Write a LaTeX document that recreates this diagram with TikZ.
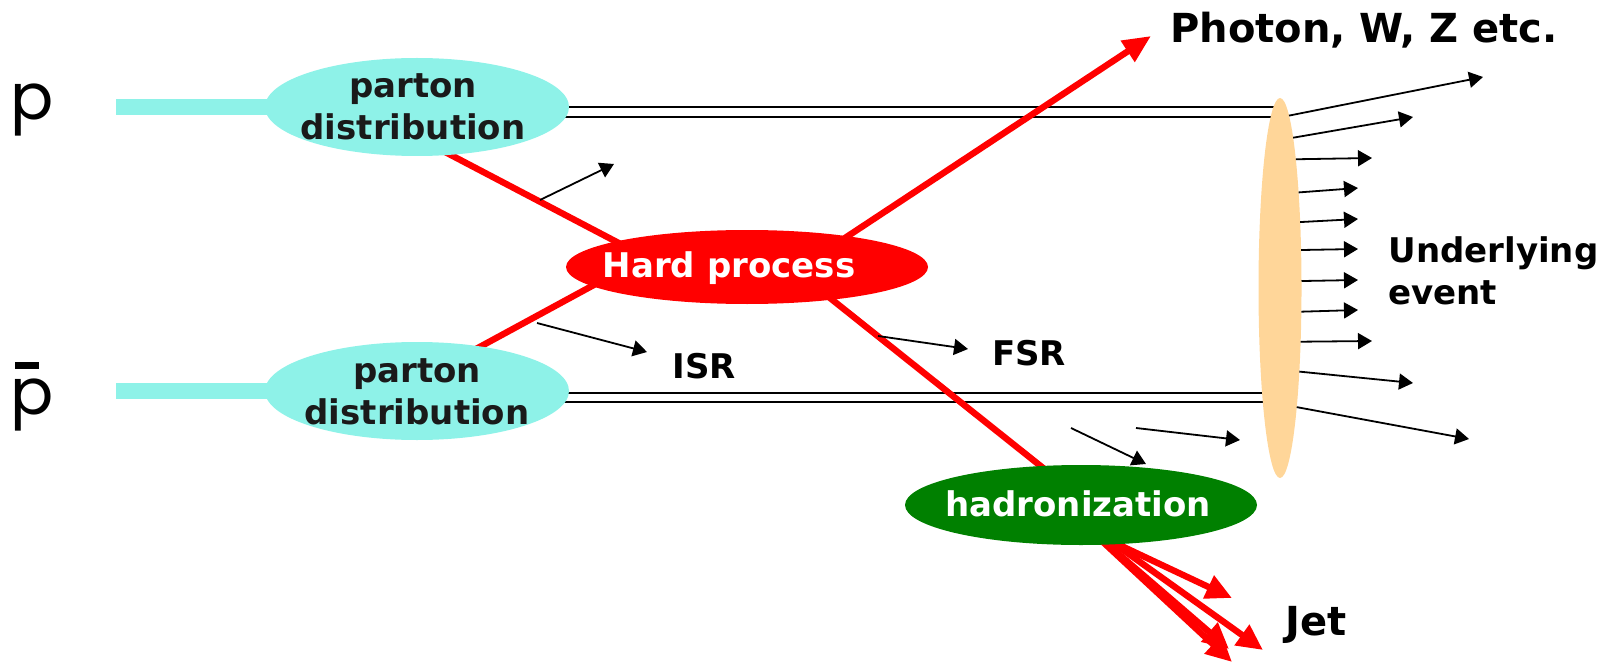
\documentclass[tikz,border=0pt]{standalone}
\usepackage{fontspec}
\setmainfont{DejaVu Sans}
\newfontfamily\beamfont{Poppins}
\usetikzlibrary{arrows.meta,shapes.geometric}
\pgfdeclarelayer{back}
\pgfsetlayers{back,main}
\definecolor{pdfcyan}{RGB}{142,242,232}
\definecolor{hardred}{RGB}{255,0,0}
\definecolor{hadgreen}{RGB}{0,128,0}
\definecolor{uepeach}{RGB}{255,214,153}
\definecolor{pdftext}{RGB}{26,26,26}
\tikzset{
  blob/.style={ellipse, inner sep=0pt, outer sep=0pt, draw=none},
  pdfblob/.style={blob, fill=pdfcyan, minimum width=152pt, minimum height=49pt},
  lbl/.style={font=\fontsize{17}{21}\selectfont\bfseries, align=center, inner sep=0pt},
  biglbl/.style={font=\fontsize{20}{24}\selectfont\bfseries, inner sep=0pt},
  beamtxt/.style={font=\beamfont\fontsize{32}{32}\selectfont, inner sep=0pt, anchor=base west},
  beam/.style={line width=8pt, draw=pdfcyan},
  rail/.style={line width=0.9pt, draw=black},
  redline/.style={line width=3.2pt, draw=hardred},
  redarrow/.style={redline, -{Triangle[length=14pt,width=12pt]}},
  jetarrow/.style={redline, -{Triangle[length=13pt,width=12pt]}},
  emit/.style={line width=0.9pt, -{Triangle[length=7pt,width=8pt]}},
}
\begin{document}
\begin{tikzpicture}[x=0.5pt,y=-0.5pt]
\useasboundingbox (0,0) rectangle (1604,663);

% incoming beam particles
\node[beamtxt] (p) at (10,120) {p};
\node[beamtxt] (pbar) at (10,414) {\makebox[0pt][l]{\hspace{2.5pt}\rule[22.5pt]{12pt}{3.5pt}}p};

% blobs
\node[pdfblob] (pdfA) at (417,107) {};
\node[lbl, text=pdftext] (pdfAtxt) at (413,107) {parton\\distribution};
\node[pdfblob] (pdfB) at (417,391) {};
\node[lbl, text=pdftext] (pdfBtxt) at (417,392) {parton\\distribution};
\node[blob, fill=hardred, minimum width=181pt, minimum height=37pt] (hard) at (747,267) {};
\node[lbl, text=white] (hardtxt) at (729,268) {Hard process};
\node[blob, fill=hadgreen, minimum width=176pt, minimum height=40pt] (had) at (1081,505) {};
\node[lbl, text=white] (hadtxt) at (1078,504) {hadronization};
\node[blob, fill=uepeach, minimum width=21.5pt, minimum height=190pt] (ue) at (1280,288) {};

% labels
\node[biglbl, anchor=base] (photon) at (1364,43) {Photon, W, Z etc.};
\node[lbl] (isr) at (704,366) {ISR};
\node[lbl] (fsr) at (1029,353) {FSR};
\node[lbl, align=left, anchor=west] (uetxt) at (1388,271) {Underlying\\event};
\node[biglbl, anchor=base] (jet) at (1316,635) {Jet};

% free ends
\coordinate (beamA) at (116,107);
\coordinate (beamB) at (116,391);
\coordinate (photonTip) at (1151,36);
\coordinate (jetA) at (1232,598);
\coordinate (jetB) at (1263,650);
\coordinate (jetC) at (1232,662);
\coordinate (jetD) at (1229,649);

\begin{pgfonlayer}{back}
  % beams feeding the parton distributions
  \draw[beam] (beamA) -- (pdfA.center);
  \draw[beam] (beamB) -- (pdfB.center);
  % spectator remnants
  \draw[rail] (pdfA.center) -- (pdfA.center -| ue.center);
  \draw[rail] ([yshift=-5pt]pdfA.center) -- ([yshift=-5pt]pdfA.center -| ue.center);
  \draw[rail] ([yshift=-1pt]pdfB.center) -- ([yshift=-1pt]pdfB.center -| ue.center);
  \draw[rail] ([yshift=-5.5pt]pdfB.center) -- ([yshift=-5.5pt]pdfB.center -| ue.center);
  % hard partons
  \draw[redline, shorten <=-6pt, shorten >=-6pt] (pdfA.-55.5) -- (hard.169);
  \draw[redline, shorten <=-6pt, shorten >=-6pt] (pdfB.35) -- (hard.187.6);
  \draw[redline, shorten <=-6pt, shorten >=-6pt] (hard.-21.9) -- (had.136.5);
  \draw[redarrow, shorten <=-6pt] (hard.17.2) -- (photonTip);
  % jet
  \draw[jetarrow, shorten <=-6pt] (had.-47) -- (jetA);
  \draw[jetarrow, shorten <=-6pt] (had.-49.4) -- (jetB);
  \draw[jetarrow, shorten <=-6pt] (had.-56) -- (jetD);
  \draw[jetarrow, shorten <=-6pt] (had.-58) -- (jetC);
\end{pgfonlayer}

% radiation
\coordinate (isrA0) at (540,200);  \coordinate (isrA1) at (614,164);
\coordinate (isrB0) at (537,323);  \coordinate (isrB1) at (647,352);
\coordinate (fsr0) at (878,336);   \coordinate (fsr1) at (968,349);
\coordinate (hadA0) at (1071,428); \coordinate (hadA1) at (1146,464);
\coordinate (hadB0) at (1136,428); \coordinate (hadB1) at (1240,440);
\draw[emit] (isrA0) -- (isrA1);
\draw[emit] (isrB0) -- (isrB1);
\draw[emit] (fsr0) -- (fsr1);
\draw[emit] (hadA0) -- (hadA1);
\draw[emit] (hadB0) -- (hadB1);

% underlying event
\foreach \t/\x/\y in {u1/1483/77, u2/1413/117, u3/1372/158, u4/1358/188,
  u5/1358/219, u6/1358/249, u7/1358/280, u8/1358/310, u9/1372/341,
  u10/1413/383, u11/1469/439}
  \coordinate (\t) at (\x,\y);
\foreach \a/\t in {87.37/u1, 85.76/u2, 83.0/u3, 79.5/u4, 73.5/u5, 61/u6,
  18/u7, -48.4/u8, -69.5/u9, -77.4/u10, -82/u11}
  \draw[emit] (ue.\a) -- (\t);
\end{tikzpicture}
\end{document}
